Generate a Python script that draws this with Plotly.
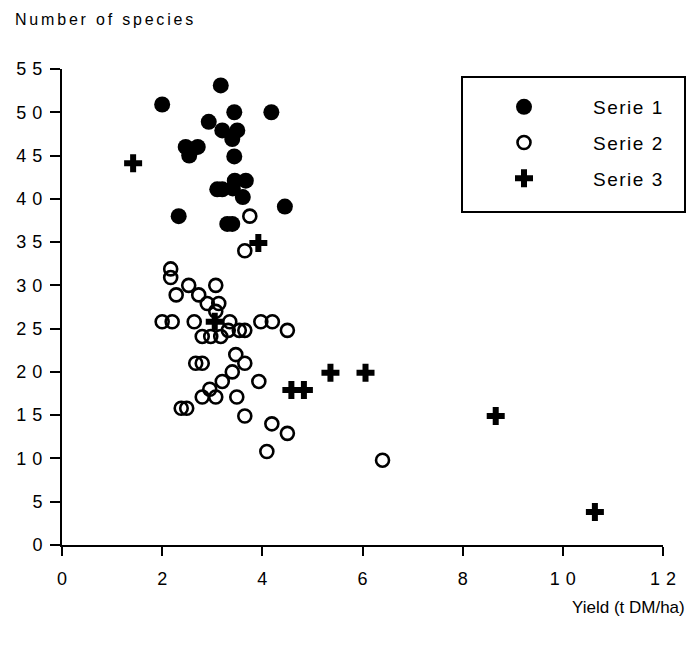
import plotly.graph_objects as go

# Serie 1 (filled circles)
x1 = [2.0, 3.17, 3.44, 4.18, 2.93, 3.2, 3.5, 3.4, 2.47, 2.71, 2.54, 3.44, 3.67, 3.45, 3.1, 3.2, 3.41, 3.61, 4.45, 2.33, 3.3, 3.4]
y1 = [50.9, 53.1, 50, 50, 48.9, 47.9, 47.9, 46.9, 46, 46, 45, 44.9, 42.1, 42.1, 41.1, 41.1, 41.2, 40.2, 39.1, 38, 37.1, 37.1]

# Serie 2 (open circles)
x2 = [3.75, 3.65, 2.17, 2.17, 2.53, 3.07, 2.28, 2.73, 2.9, 3.13,
      3.07, 2.0, 2.2, 2.64, 3.35, 3.97, 4.2, 3.32, 3.54, 3.65,
      4.5, 2.8, 2.97, 3.17, 3.47, 2.67, 2.8, 3.65, 3.4, 3.2,
      3.93, 2.95, 2.8, 3.07, 3.49, 2.38, 2.49, 3.65, 4.19, 4.5,
      4.09, 6.4]
y2 = [38, 34, 31.9, 30.9, 30, 30, 28.9, 28.9, 27.9, 27.9,
      27, 25.8, 25.8, 25.8, 25.8, 25.8, 25.8, 24.8, 24.8, 24.8,
      24.8, 24.1, 24.1, 24.1, 22, 21, 21, 21, 20, 18.9,
      18.9, 18, 17.1, 17.1, 17.1, 15.8, 15.8, 14.9, 14, 12.9,
      10.8, 9.8]

# Serie 3 (crosses)
x3 = [1.42, 3.92, 3.05, 4.58, 4.83, 5.36, 6.06, 8.66, 10.64]
y3 = [44.1, 34.9, 25.8, 17.9, 17.9, 19.9, 19.9, 14.9, 3.8]

names = ["Serie 1", "Serie 2", "Serie 3"]
x_ticks = [0, 2, 4, 6, 8, 10, 12]
y_ticks = [0, 5, 10, 15, 20, 25, 30, 35, 40, 45, 50, 55]

FONT = "Liberation Sans, Arial, sans-serif"
SP = "\u2004"  # three-per-em space: wide digit spacing as in the original


def spaced(v):
    return SP.join(str(v))


def ls(text, px):
    return "<span style='letter-spacing:%spx'>%s</span>" % (px, text)


fig = go.Figure()
fig.add_trace(go.Scatter(x=x1, y=y1, mode="markers", name=ls(names[0], 1.5), legendgroup="a",
                         marker=dict(symbol="circle", size=16, color="black", line=dict(width=0)),
                         cliponaxis=False))
fig.add_trace(go.Scatter(x=x2, y=y2, mode="markers", name=ls(names[1], 1.5), legendgroup="b",
                         marker=dict(symbol="circle-open", size=13, color="black", line=dict(width=2.6, color="black")),
                         cliponaxis=False))
fig.add_trace(go.Scatter(x=x3, y=y3, mode="markers", name=ls(names[2], 1.5), legendgroup="c",
                         marker=dict(symbol="cross", size=15, color="black", line=dict(width=0)),
                         cliponaxis=False))

W, H = 688, 646
L, R, T, B = 62, 25, 69, 101
pw, ph = W - L - R, H - T - B


def px_x(p):
    return (p - L) / pw


def px_y(p):
    return (H - B - p) / ph


fig.update_layout(
    width=W, height=H,
    margin=dict(l=L, r=R, t=T, b=B),
    plot_bgcolor="white", paper_bgcolor="white",
    font=dict(family=FONT, size=18, color="black"),
    xaxis=dict(range=[0, 12], tickvals=x_ticks, ticktext=[spaced(v) for v in x_ticks],
               showgrid=False, zeroline=False,
               showline=True, linecolor="black", linewidth=2,
               ticks="outside", ticklen=9, tickwidth=2, tickcolor="black",
               ticklabelstandoff=7, tickfont=dict(size=18)),
    yaxis=dict(range=[0, 55], tickvals=y_ticks, ticktext=[spaced(v) for v in y_ticks],
               showgrid=False, zeroline=False,
               showline=True, linecolor="black", linewidth=2,
               ticks="outside", ticklen=10, tickwidth=2, tickcolor="black",
               ticklabelstandoff=4, tickfont=dict(size=18)),
    legend=dict(x=px_x(455), y=px_y(88), xanchor="left", yanchor="top",
                bgcolor="rgba(0,0,0,0)", borderwidth=0,
                traceorder="grouped", tracegroupgap=8, itemwidth=128,
                font=dict(size=19, family=FONT)),
    shapes=[dict(type="rect", xref="paper", yref="paper",
                 x0=px_x(462), x1=px_x(685), y0=px_y(212), y1=px_y(77),
                 line=dict(color="black", width=2))],
    annotations=[
        dict(text=ls("Number of species", 2.8), xref="paper", yref="paper",
             x=px_x(13), y=px_y(20), xanchor="left", yanchor="middle",
             showarrow=False, font=dict(size=16, family=FONT)),
        dict(text="Yield (t DM/ha)", xref="paper", yref="paper",
             x=px_x(687), y=px_y(607), xanchor="right", yanchor="middle",
             showarrow=False, font=dict(size=17, family=FONT)),
    ],
)

fig.write_html("out.html")
